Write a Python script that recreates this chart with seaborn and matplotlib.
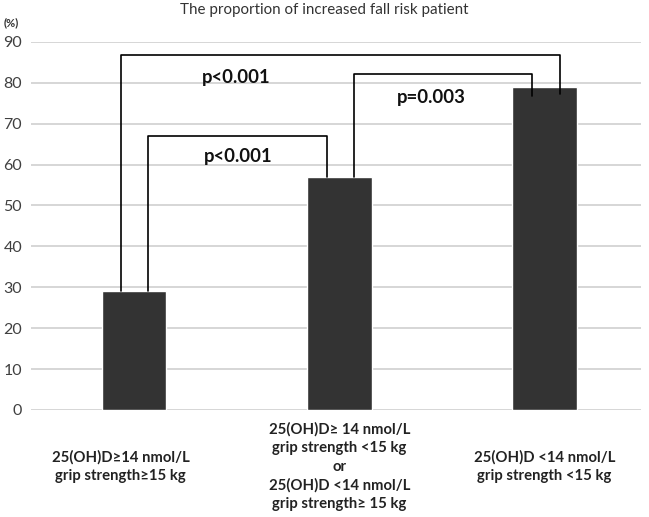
import matplotlib
matplotlib.use("Agg")
import matplotlib.pyplot as plt
import matplotlib.transforms as mtransforms
import pandas as pd
import seaborn as sns

sns.set_theme(style="white")
plt.rcParams["font.family"] = ["Lato", "DejaVu Sans"]

groups = [
    "25(OH)D≥14 nmol/L\ngrip strength≥15 kg",
    "25(OH)D≥ 14 nmol/L\ngrip strength <15 kg\nor\n25(OH)D <14 nmol/L\ngrip strength≥ 15 kg",
    "25(OH)D <14 nmol/L\ngrip strength <15 kg",
]
proportion = [29, 57, 79]

# brackets: (left x, left bottom, right x, right bottom, top y, label, label x, label y)
brackets = [
    (0.07, 29, 0.94, 57, 67, "p<0.001", 0.51, 62),
    (-0.065, 29, 2.075, 77.3, 86.8, "p<0.001", 0.50, 81.2),
    (1.07, 57, 1.94, 76.8, 82.2, "p=0.003", 1.45, 76.3),
]

df = pd.DataFrame({"group": groups, "proportion": proportion})

fig = plt.figure(figsize=(6.49, 5.17), dpi=100)
ax = fig.add_axes([0.048, 0.207, 0.94, 0.712])

sns.barplot(data=df, x="group", y="proportion", color="#333333",
            saturation=1, width=0.315, ax=ax, zorder=3)

ax.set_ylim(0, 90)
ax.set_xlim(-0.5, 2.47)
ax.set_yticks(range(0, 91, 10))
ax.yaxis.grid(True, color="#d0d0d0", linewidth=1.2, zorder=0)
ax.set_axisbelow(True)
for s in ax.spines.values():
    s.set_visible(False)
ax.tick_params(axis="y", length=0, pad=6.5, labelsize=11.5, labelcolor="#404040")
ax.tick_params(axis="x", length=0, pad=41)
ax.set_xticks(range(len(groups)))
ax.set_xticklabels(groups, fontsize=10.7, fontweight="bold", va="center",
                   linespacing=1.4, color="#222222")
# first label sits a little left of its bar in the original
lab0 = ax.get_xticklabels()[0]
lab0.set_transform(lab0.get_transform()
                   + mtransforms.ScaledTranslation(-13 / 100, 0, fig.dpi_scale_trans))
ax.set_xlabel("")
ax.set_ylabel("")

for x1, y1, x2, y2, top, label, lx, ly in brackets:
    ax.plot([x1, x1, x2, x2], [y1, top, top, y2], color="black", lw=1.2, zorder=4)
    ax.text(lx, ly, label, ha="center", va="center", fontsize=13.3,
            fontweight="bold", color="#111111")

fig.text(0.5, 0.995, "The proportion of increased fall risk patient",
         ha="center", va="top", fontsize=10.9, color="#333333")
fig.text(0.006, 0.957, "(%)", ha="left", va="center", fontsize=8,
         fontweight="bold", color="#333333")

fig.savefig("out.png", dpi=100)
